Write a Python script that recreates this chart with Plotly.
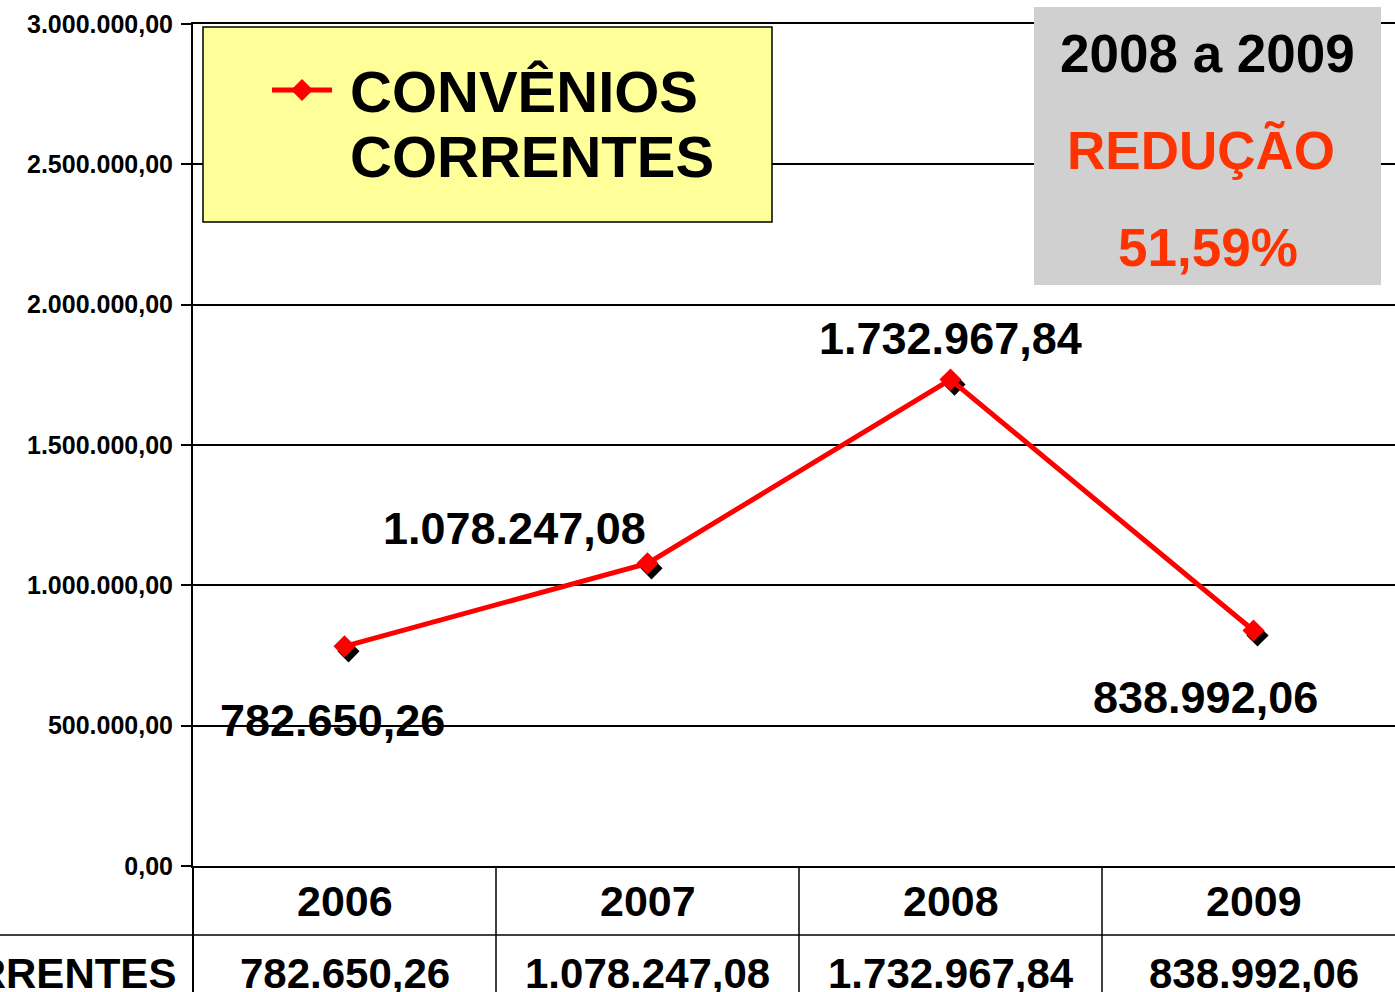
import plotly.graph_objects as go

# ---------------- data ----------------
years = ["2006", "2007", "2008", "2009"]
values = [782650.26, 1078247.08, 1732967.84, 838992.06]
value_labels = ["782.650,26", "1.078.247,08", "1.732.967,84", "838.992,06"]
y_tickvals = [0, 500000, 1000000, 1500000, 2000000, 2500000, 3000000]
y_ticktext = ["0,00", "500.000,00", "1.000.000,00", "1.500.000,00",
              "2.000.000,00", "2.500.000,00", "3.000.000,00"]
series_name = "CONVÊNIOS CORRENTES"
legend_lines = ["CONVÊNIOS", "CORRENTES"]
box_title = "2008 a 2009"
box_label = "REDUÇÃO"
box_pct = "51,59%"

# ---------------- layout constants ----------------
W, H = 1395, 992
PL, PT = 193, 24
PW, PH = W - PL, 866 - PT
FONT = "Liberation Sans, Arial, sans-serif"
RED = "#FF0000"
ORANGE = "#FF3300"

def px(x):
    return (x - PL) / PW

def py(y):
    return (PT + PH - y) / PH

xs = list(range(len(years)))
# pixel-offset shadow for markers (style)
sh_dx = 4 / 303.0
sh_dy = -5 * 500000 / 140.33

fig = go.Figure()
fig.add_trace(go.Scatter(
    x=[x + sh_dx for x in xs], y=[v + sh_dy for v in values],
    mode="markers", marker=dict(symbol="diamond", size=17, color="black"),
    showlegend=False, hoverinfo="skip"))
fig.add_trace(go.Scatter(
    x=xs, y=values, mode="lines+markers", name=series_name,
    line=dict(color=RED, width=5),
    marker=dict(symbol="diamond", size=17, color=RED),
    showlegend=False))

annotations = []
# data labels
shifts = [(-12, -74), (-133, 35), (0, 41), (-48, -67)]
for x, v, lab, (dx, dy) in zip(xs, values, value_labels, shifts):
    annotations.append(dict(x=x, y=v, xref="x", yref="y", text=lab, showarrow=False,
                            xshift=dx, yshift=dy, xanchor="center", yanchor="middle",
                            font=dict(family=FONT, size=45, color="black", weight="bold")))
# data table
for x, yr, lab in zip(xs, years, value_labels):
    annotations.append(dict(x=x, y=py(901), xref="x", yref="paper", text=yr, showarrow=False,
                            xanchor="center", yanchor="middle",
                            font=dict(family=FONT, size=43, color="black", weight="bold")))
    annotations.append(dict(x=x, y=py(973), xref="x", yref="paper", text=lab, showarrow=False,
                            xanchor="center", yanchor="middle",
                            font=dict(family=FONT, size=42, color="black", weight="bold")))
annotations.append(dict(x=px(178), y=py(973), xref="paper", yref="paper", text=series_name,
                        showarrow=False, xanchor="right", yanchor="middle",
                        font=dict(family=FONT, size=42, color="black", weight="bold")))
# legend text
for i, t in enumerate(legend_lines):
    annotations.append(dict(x=px(348), y=py(91 + 66 * i), xref="paper", yref="paper", text=t,
                            showarrow=False, xanchor="left", yanchor="middle",
                            font=dict(family=FONT, size=58, color="black", weight="bold")))
# gray box text
annotations.append(dict(x=px(1207), y=py(53), xref="paper", yref="paper", text=box_title,
                        showarrow=False, xanchor="center", yanchor="middle",
                        font=dict(family=FONT, size=53, color="black", weight="bold")))
annotations.append(dict(x=px(1201), y=py(150), xref="paper", yref="paper", text=box_label,
                        showarrow=False, xanchor="center", yanchor="middle",
                        font=dict(family=FONT, size=53, color=ORANGE, weight="bold")))
annotations.append(dict(x=px(1208), y=py(247), xref="paper", yref="paper", text=box_pct,
                        showarrow=False, xanchor="center", yanchor="middle",
                        font=dict(family=FONT, size=53, color=ORANGE, weight="bold")))

shapes = []
# legend box
shapes.append(dict(type="rect", xref="paper", yref="paper", x0=px(203), x1=px(772),
                   y0=py(222), y1=py(27), fillcolor="#FFFF99",
                   line=dict(color="black", width=1.5), layer="above"))
shapes.append(dict(type="line", xref="paper", yref="paper", x0=px(272), x1=px(332),
                   y0=py(90), y1=py(90), line=dict(color=RED, width=5), layer="above"))
cx, cy, r = 302, 90, 11
shapes.append(dict(type="path", xref="paper", yref="paper", layer="above",
                   path="M {},{} L {},{} L {},{} L {},{} Z".format(
                       px(cx - r), py(cy), px(cx), py(cy - r), px(cx + r), py(cy), px(cx), py(cy + r)),
                   fillcolor=RED, line=dict(color=RED, width=0)))
# gray box
shapes.append(dict(type="rect", xref="paper", yref="paper", x0=px(1034), x1=px(1381),
                   y0=py(285), y1=py(7), fillcolor="#D0D0D0",
                   line=dict(width=0), layer="above"))
# data table lines
for b in [0.5, 1.5, 2.5]:
    shapes.append(dict(type="line", xref="x", yref="paper", x0=b, x1=b, y0=py(866), y1=py(1000),
                       line=dict(color="black", width=1.5)))
shapes.append(dict(type="line", xref="paper", yref="paper", x0=px(193), x1=px(193), y0=py(866),
                   y1=py(1000), line=dict(color="black", width=2)))
shapes.append(dict(type="line", xref="paper", yref="paper", x0=px(-5), x1=1.0, y0=py(935),
                   y1=py(935), line=dict(color="black", width=1.5)))

fig.update_layout(
    width=W, height=H, autosize=False,
    margin=dict(l=PL, r=0, t=PT, b=H - PT - PH, pad=0),
    paper_bgcolor="white", plot_bgcolor="white",
    showlegend=False,
    annotations=annotations, shapes=shapes,
    xaxis=dict(range=[-0.5, -0.5 + PW / 303.0], showticklabels=False, showgrid=False,
               zeroline=False, showline=True, mirror=True, linecolor="black", linewidth=1.5,
               ticks="", fixedrange=True),
    yaxis=dict(range=[0, 3000000], tickvals=y_tickvals, ticktext=y_ticktext,
               ticks="outside", ticklen=10, tickwidth=1.5, tickcolor="black",
               ticklabelstandoff=3,
               showgrid=True, gridcolor="black", gridwidth=1.5, zeroline=False,
               showline=True, linecolor="black", linewidth=2,
               tickfont=dict(family=FONT, size=25, color="black", weight="bold"),
               fixedrange=True),
)

fig.write_html("out.html", config={"displayModeBar": False},
               post_script="document.body.style.margin='0';document.body.style.overflow='hidden';")
